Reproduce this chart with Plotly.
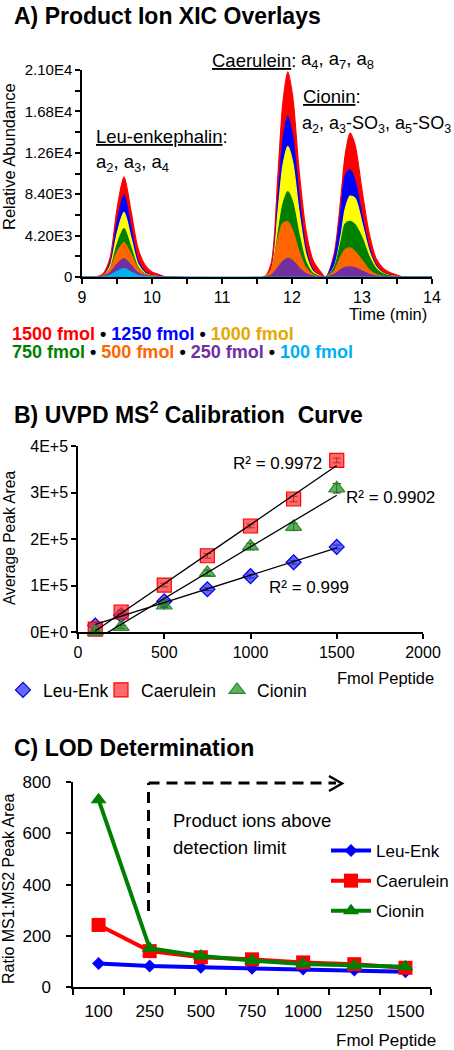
import numpy as np
import plotly.graph_objects as go

FONT = "Liberation Sans, Arial, Helvetica, sans-serif"
W, H = 454, 1050

# ---------------- Panel A: product ion XIC overlays ----------------
time_min = [9.0, 9.2, 9.3, 9.4, 9.5, 9.6, 9.7, 9.8, 9.9, 10.0, 10.1, 10.2,
            11.6, 11.7, 11.8, 11.87, 11.94, 12.01, 12.1, 12.2, 12.3, 12.4, 12.48,
            12.6, 12.7, 12.76, 12.83, 12.9, 13.0, 13.1, 13.2, 13.3, 13.4, 13.5, 13.6, 14.0]

xic_1500 = [0, 0, 300, 1900, 6900, 10150, 6700, 2900, 1200, 500, 250, 0,
            0, 1300, 10500, 17700, 20800, 18300, 10900, 4700, 1700, 600, 0,
            2300, 8200, 12400, 14600, 13430, 8800, 4500, 1900, 900, 450, 200, 0, 0]
xic_1250 = [0, 0, 125, 1370, 5560, 8330, 5060, 1700, 520, 170, 65, 0,
            0, 730, 8150, 13900, 16300, 14300, 8250, 2850, 700, 150, 0,
            1900, 6800, 10300, 10900, 9800, 6300, 3100, 1200, 420, 180, 70, 0, 0]
xic_1000 = [0, 0, 100, 1080, 4370, 6550, 3980, 1310, 390, 130, 50, 0,
            0, 600, 6600, 11300, 13250, 11650, 6650, 2300, 560, 110, 0,
            1000, 4200, 6900, 8200, 8000, 5500, 2700, 1050, 380, 150, 60, 0, 0]
xic_750 = [0, 0, 75, 810, 3280, 4920, 2990, 980, 300, 100, 40, 0,
           0, 450, 4400, 7400, 8660, 7600, 4350, 1500, 370, 80, 0,
           900, 3600, 5400, 5650, 5300, 4000, 2100, 850, 300, 120, 40, 0, 0]
xic_500 = [0, 0, 120, 800, 2500, 3500, 2300, 850, 280, 90, 30, 0,
           0, 700, 3900, 5450, 5600, 4700, 2600, 900, 220, 50, 0,
           600, 2100, 2800, 2950, 2600, 1700, 750, 250, 80, 30, 0, 0, 0]
xic_250 = [0, 0, 60, 400, 1300, 1860, 1200, 430, 140, 45, 15, 0,
           0, 150, 950, 1600, 1880, 1650, 950, 330, 80, 15, 0,
           250, 750, 980, 1020, 930, 620, 280, 90, 30, 10, 0, 0, 0]
xic_100 = [0, 0, 25, 170, 580, 850, 520, 180, 60, 20, 5, 0,
           0, 0, 0, 0, 0, 0, 0, 0, 0, 0, 0,
           0, 0, 0, 0, 0, 0, 0, 0, 0, 0, 0, 0, 0]

conc_labels = ["1500 fmol", "1250 fmol", "1000 fmol", "750 fmol", "500 fmol", "250 fmol", "100 fmol"]
fill_colors = ["#FF0000", "#0000FF", "#FFFF00", "#008000", "#FF6600", "#7030A0", "#00B0F0"]
text_colors = ["#FF0000", "#0000FF", "#E6A800", "#008000", "#FF6600", "#7030A0", "#00B0F0"]
xic_series = [xic_1500, xic_1250, xic_1000, xic_750, xic_500, xic_250, xic_100]

a_xticks = [9, 10, 11, 12, 13, 14]
a_yticks = [0, 4200, 8400, 12600, 16800, 21000]
a_yticktext = ["0", "4.20E3", "8.40E3", "1.26E4", "1.68E4", "2.10E4"]

# ---------------- Panel B: calibration curve ----------------
fmol_b = [100, 250, 500, 750, 1000, 1250, 1500]
leu_area = [14000, 36000, 66000, 92000, 120000, 150000, 183000]
cae_area = [6000, 43000, 101000, 164000, 228000, 286000, 369000]
cio_area = [1000, 11000, 57000, 127000, 184000, 226000, 309000]
leu_err = [1000, 2000, 3000, 3000, 4000, 4000, 4000]
cae_err = [2000, 3000, 4000, 5000, 4000, 6000, 5000]
cio_err = [1000, 3000, 4000, 6000, 7000, 8000, 10000]
r2_text = ["R² = 0.999", "R² = 0.9972", "R² = 0.9902"]
b_xticks = [0, 500, 1000, 1500, 2000]
b_yticks = [0, 100000, 200000, 300000, 400000]
b_yticktext = ["0E+0", "1E+5", "2E+5", "3E+5", "4E+5"]

# ---------------- Panel C: LOD determination ----------------
fmol_c = ["100", "250", "500", "750", "1000", "1250", "1500"]
leu_ratio = [93, 83, 78, 74, 71, 67, 61]
cae_ratio = [243, 141, 117, 109, 97, 90, 76]
cio_ratio = [731, 152, 122, 104, 91, 84, 80]

peptides = ["Leu-Enk", "Caerulein", "Cionin"]


def px(x):
    return x / W


def py(y):
    return 1 - y / H


fig = go.Figure()

# Panel A traces (largest first, smaller overlaid)
for vals, col in zip(xic_series, fill_colors):
    fig.add_trace(go.Scatter(
        x=time_min, y=vals, mode="lines", line=dict(color=col, width=1.2, shape="spline", smoothing=0.8),
        fill="tozeroy", fillcolor=col, showlegend=False, hoverinfo="skip",
        xaxis="x", yaxis="y"))

# Panel B traces (each in its own legend box so the row can be spaced like the original)
b_styles = [
    dict(symbol="diamond", size=11.5, color="rgba(50,50,255,0.75)", line=dict(color="#0000E0", width=1.2)),
    dict(symbol="square", size=14, color="rgba(255,50,50,0.72)", line=dict(color="#FF0000", width=1.2)),
    dict(symbol="triangle-up", size=14, color="rgba(40,150,40,0.75)", line=dict(color="#2A8A2A", width=1.2)),
]
b_legends = ["legend", "legend3", "legend4"]
b_vals = [leu_area, cae_area, cio_area]
b_errs = [leu_err, cae_err, cio_err]
for name, vals, errs, st, lg in zip(peptides, b_vals, b_errs, b_styles, b_legends):
    fig.add_trace(go.Scatter(
        x=fmol_b, y=vals, mode="markers", name=name, marker=st,
        error_y=dict(type="data", array=errs, color="black", thickness=1, width=4),
        cliponaxis=False, legend=lg, xaxis="x2", yaxis="y2"))
for vals in b_vals:
    coef = np.polyfit(fmol_b, vals, 1)
    xs = [min(fmol_b), max(fmol_b)]
    fig.add_trace(go.Scatter(
        x=xs, y=list(np.polyval(coef, xs)), mode="lines", line=dict(color="black", width=1.3),
        showlegend=False, hoverinfo="skip", xaxis="x2", yaxis="y2"))

# Panel C traces
c_idx = list(range(len(fmol_c)))
c_styles = [
    ("#0000FF", dict(symbol="diamond", size=10, color="#0000FF")),
    ("#FF0000", dict(symbol="square", size=14, color="#FF0000")),
    ("#008000", dict(symbol="triangle-up", size=14, color="#008000")),
]
for name, vals, (col, mk) in zip(peptides, [leu_ratio, cae_ratio, cio_ratio], c_styles):
    fig.add_trace(go.Scatter(
        x=c_idx, y=vals, mode="lines+markers", name=name, line=dict(color=col, width=4),
        marker=mk, cliponaxis=False, legend="legend2", legendgroup=name,
        xaxis="x3", yaxis="y3"))

axis_common = dict(showline=True, linecolor="black", linewidth=1.5, ticks="outside",
                   tickcolor="black", tickwidth=1.5, ticklen=5, showgrid=False,
                   zeroline=False, fixedrange=True, automargin=False)


def b_legend(xpix):
    return dict(orientation="h", x=px(xpix), y=py(690), xanchor="left", yanchor="middle",
                font=dict(size=17.5, family=FONT), itemwidth=30, bgcolor="rgba(0,0,0,0)")


fig.update_layout(
    template="none",
    width=W, height=H, margin=dict(l=0, r=0, t=0, b=0, autoexpand=False),
    paper_bgcolor="white", plot_bgcolor="white",
    font=dict(family=FONT, color="black"),
    xaxis=dict(domain=[px(82), px(432)], range=[9, 14], anchor="y", tickvals=a_xticks,
               tickfont=dict(size=16), minor=dict(dtick=0.5, tick0=9, ticks="outside", ticklen=5,
                                                  tickcolor="black", tickwidth=1.5), **axis_common),
    yaxis=dict(domain=[py(277), py(70)], range=[0, 21000], anchor="x", tickvals=a_yticks,
               ticktext=a_yticktext, tickfont=dict(size=15),
               minor=dict(dtick=2100, tick0=0, ticks="outside", ticklen=5, tickcolor="black",
                          tickwidth=1.5), **axis_common),
    xaxis2=dict(domain=[px(78), px(423)], range=[0, 2000], anchor="y2", tickvals=b_xticks,
                tickfont=dict(size=16), **axis_common),
    yaxis2=dict(domain=[py(632), py(446)], range=[0, 400000], anchor="x2", tickvals=b_yticks,
                ticktext=b_yticktext, tickfont=dict(size=16), **axis_common),
    xaxis3=dict(domain=[px(73), px(431)], range=[-0.5, len(fmol_c) - 0.5], anchor="y3",
                tickvals=c_idx, ticktext=fmol_c, tickfont=dict(size=17),
                showline=True, linecolor="black", linewidth=1.5, ticks="outside",
                tickcolor="rgba(0,0,0,0)", ticklen=8, showgrid=False, zeroline=False,
                automargin=False, fixedrange=True,
                minor=dict(tick0=-0.5, dtick=1, ticks="outside", ticklen=6, tickcolor="black",
                           tickwidth=1.5)),
    yaxis3=dict(domain=[py(987.3), py(782)], range=[0, 800], anchor="x3", dtick=200,
                tickfont=dict(size=17), ticklabelstandoff=12, **axis_common),
    legend=b_legend(3),
    legend3=b_legend(101),
    legend4=b_legend(217),
    legend2=dict(orientation="v", x=px(326), y=py(833), xanchor="left", yanchor="top",
                 font=dict(size=17, family=FONT), itemwidth=40, traceorder="grouped",
                 tracegroupgap=5, bgcolor="rgba(0,0,0,0)"),
)


def ann(text, x, y, size, xanchor="left", yanchor="middle", angle=0):
    return dict(text=text, x=px(x), y=py(y), xref="paper", yref="paper",
                xanchor=xanchor, yanchor=yanchor, showarrow=False, textangle=angle,
                font=dict(family=FONT, size=size, color="black"))


def colored(labels, colors):
    return " • ".join(f"<span style='color:{c}'>{t}</span>" for t, c in zip(labels, colors))


annotations = [
    ann("<b>A) Product Ion XIC Overlays</b>", 12, 16, 23),
    ann("<u>Leu-enkephalin</u>:", 94, 137, 18.5),
    ann("a<sub>2</sub>, a<sub>3</sub>, a<sub>4</sub>", 94, 163, 18.5),
    ann("<u>Caerulein</u>:", 210, 60, 18.5),
    ann("a<sub>4</sub>, a<sub>7</sub>, a<sub>8</sub>", 299, 60, 18.5),
    ann("<u>Cionin</u>:", 301, 97, 18.5),
    ann("a<sub>2</sub>, a<sub>3</sub>-SO<sub>3</sub>, a<sub>5</sub>-SO<sub>3</sub>", 300, 124, 18),
    ann("Relative Abundance", 9, 157, 16.5, xanchor="center", angle=-90),
    ann("Time (min)", 429, 314, 16.5, xanchor="right"),
    ann("<b>" + colored(conc_labels[:3], text_colors[:3]) + "</b>", 10, 334, 18),
    ann("<b>" + colored(conc_labels[3:], text_colors[3:]) + "</b>", 10, 352, 18),
    ann("<b>B) UVPD MS<sup>2</sup> Calibration\u00a0 Curve</b>", 12, 413, 23),
    ann("Average Peak Area", 9, 538, 15.6, xanchor="center", angle=-90),
    ann("Fmol Peptide", 436, 678, 16.5, xanchor="right"),
    ann(r2_text[1], 231, 463, 17),
    ann(r2_text[2], 344, 497, 17),
    ann(r2_text[0], 267, 587, 17),
    ann("<b>C) LOD Determination</b>", 12, 748, 23),
    ann("Ratio MS1:MS2 Peak Area", 8, 889, 16, xanchor="center", angle=-90),
    ann("Fmol Peptide", 438, 1040, 17, xanchor="right"),
    ann("Product ions above", 171, 820, 18.5),
    ann("detection limit", 171, 847, 18.5),
]
fig.update_layout(annotations=annotations)

# Dashed "above detection limit" arrow (paper coordinates)
dash = dict(color="black", width=3, dash="11px,7px")
fig.add_shape(type="line", xref="paper", yref="paper", x0=px(148.5), y0=py(911), x1=px(148.5), y1=py(783), line=dash)
fig.add_shape(type="line", xref="paper", yref="paper", x0=px(148.5), y0=py(783), x1=px(336), y1=py(783), line=dash)
fig.add_shape(type="path", xref="paper", yref="paper",
              path=f"M {px(329)},{py(776)} L {px(342)},{py(783.5)} L {px(329)},{py(791)}",
              line=dict(color="black", width=2.5))

fig.write_html("out.html", config={"displayModeBar": False, "responsive": False},
               post_script="document.body.style.margin='0';")
